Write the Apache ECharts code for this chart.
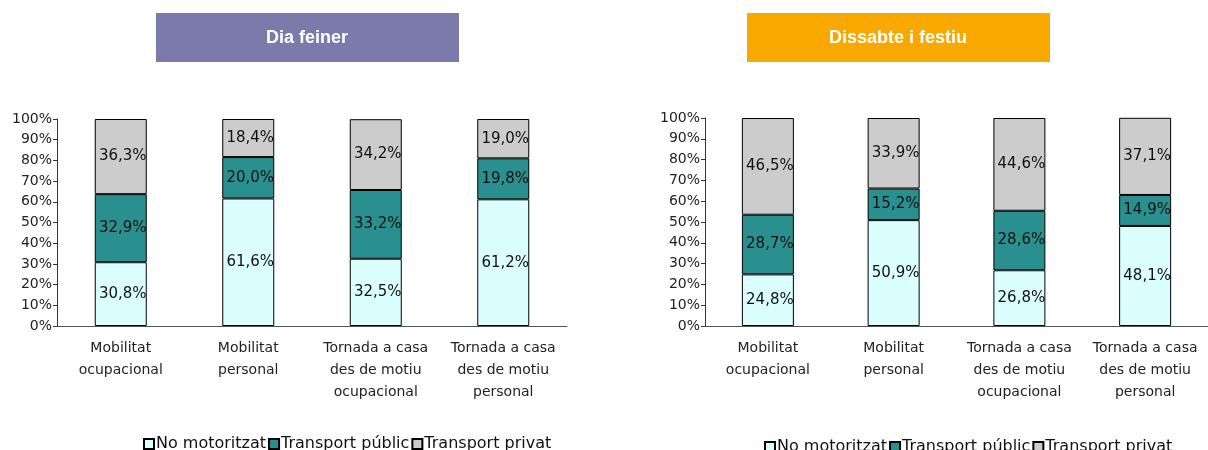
<!DOCTYPE html>
<html>
<head>
<meta charset="utf-8">
<script src="https://cdn.jsdelivr.net/npm/echarts@6/dist/echarts.min.js"></script>
<style>
  html, body { margin: 0; padding: 0; background: #fff; }
  #main { width: 1208px; height: 450px; }
</style>
</head>
<body>
<div id="main"></div>
<script>
// categories (x axis)
var categories = ['Mobilitat\nocupacional', 'Mobilitat\npersonal', 'Tornada a casa\ndes de motiu\nocupacional', 'Tornada a casa\ndes de motiu\npersonal'];
var seriesNames = ['No motoritzat', 'Transport públic', 'Transport privat'];
var yTicks = [0, 10, 20, 30, 40, 50, 60, 70, 80, 90, 100];
// Dia feiner
var feinerNoMot = [30.8, 61.6, 32.5, 61.2];
var feinerPublic = [32.9, 20.0, 33.2, 19.8];
var feinerPrivat = [36.3, 18.4, 34.2, 19.0];
// Dissabte i festiu
var festiuNoMot = [24.8, 50.9, 26.8, 48.1];
var festiuPublic = [28.7, 15.2, 28.6, 14.9];
var festiuPrivat = [46.5, 33.9, 44.6, 37.1];

var colors = ['#dbffff', '#2a8f8f', '#cccccc'];
var fontFam = '"DejaVu Sans", Verdana, sans-serif';

var chartManager = {
    // bar series for one panel
    makeSeries: function (idx, lists) {
        var out = [];
        for (var i = 0; i < lists.length; i++) {
            out.push({
                name: seriesNames[i],
                type: 'bar',
                stack: 'panel' + idx,
                xAxisIndex: idx,
                yAxisIndex: idx,
                barWidth: 52,
                data: lists[i],
                itemStyle: { color: colors[i], borderColor: '#000', borderWidth: 1 },
                label: {
                    show: true,
                    position: 'inside',
                    offset: [2, 0],
                    fontFamily: fontFam,
                    fontSize: 15,
                    color: '#111',
                    formatter: function (p) {
                        return p.value.toFixed(1).replace('.', ',') + '%';
                    }
                }
            });
        }
        return out;
    },
    xAxisOf: function (idx) {
        return {
            type: 'category',
            gridIndex: idx,
            data: categories,
            axisLine: { lineStyle: { color: '#555' } },
            axisTick: { length: 4, lineStyle: { color: '#555' } },
            axisLabel: {
                interval: 0,
                margin: 11,
                fontFamily: fontFam,
                fontSize: 14,
                lineHeight: 22,
                color: '#222'
            }
        };
    },
    yAxisOf: function (idx) {
        return {
            type: 'value',
            gridIndex: idx,
            min: yTicks[0],
            max: yTicks[yTicks.length - 1],
            interval: 10,
            splitLine: { show: false },
            axisLine: { show: true, lineStyle: { color: '#333' } },
            axisTick: { show: true, length: 4, lineStyle: { color: '#333' } },
            axisLabel: {
                margin: 5,
                fontFamily: fontFam,
                fontSize: 14,
                color: '#222',
                formatter: '{value}%'
            }
        };
    },
    legendOf: function (left, top) {
        return {
            left: left,
            top: top,
            itemWidth: 10,
            itemHeight: 10,
            itemGap: 2,
            icon: 'rect',
            data: seriesNames,
            textStyle: { fontFamily: fontFam, fontSize: 16, color: '#111', padding: [0, 0, 0, -3] }
        };
    },
    titleBox: function (x, text, fill) {
        return {
            type: 'group',
            left: x,
            top: 13,
            children: [{
                type: 'rect',
                shape: { x: 0, y: 0, width: 303, height: 49 },
                style: { fill: fill }
            }, {
                type: 'text',
                x: 151,
                y: 25,
                style: {
                    text: text,
                    fill: '#fff',
                    font: 'bold 18px "Liberation Sans", Arial, sans-serif',
                    align: 'center',
                    verticalAlign: 'middle'
                }
            }]
        };
    },
    init: function () {
        var myChart = echarts.init(document.getElementById('main'));
        var option = {
            animation: false,
            grid: [
                { left: 57, top: 119, width: 510, height: 207 },
                { left: 705, top: 118, width: 503, height: 208 }
            ],
            xAxis: [chartManager.xAxisOf(0), chartManager.xAxisOf(1)],
            yAxis: [chartManager.yAxisOf(0), chartManager.yAxisOf(1)],
            legend: [chartManager.legendOf(138, 431), chartManager.legendOf(759, 434)],
            graphic: [
                chartManager.titleBox(156, 'Dia feiner', '#7b7aaa'),
                chartManager.titleBox(747, 'Dissabte i festiu', '#f9a800')
            ],
            series: chartManager.makeSeries(0, [feinerNoMot, feinerPublic, feinerPrivat])
                .concat(chartManager.makeSeries(1, [festiuNoMot, festiuPublic, festiuPrivat]))
        };
        myChart.setOption(option);
    }
};
chartManager.init();
</script>
</body>
</html>
